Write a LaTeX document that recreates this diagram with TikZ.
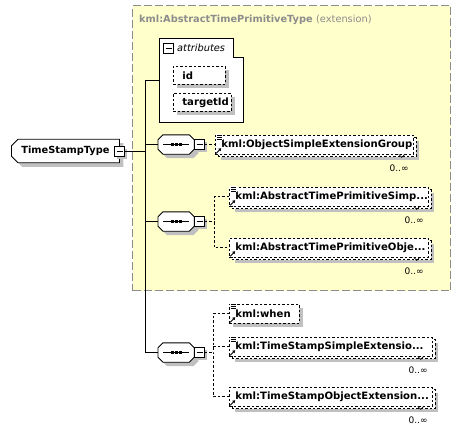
\documentclass[tikz,border=0pt]{standalone}
\usepackage{fontspec}
\setmainfont{DejaVu Sans}
\usetikzlibrary{shapes.misc,shadows,calc,arrows.meta}
\definecolor{yel}{HTML}{FFFFCC}
\definecolor{shc}{HTML}{C0C0C0}
\definecolor{frm}{HTML}{8C8C8C}
\newcommand\bft{\fontsize{9.8}{11}\selectfont\bfseries}
\newcommand\eft{\fontsize{10.1}{11}\selectfont\bfseries}
\newcommand\refarrow[1]{%
  \fill[white] ($(#1.south west)+(0.6,-0.6)$) rectangle ++(6.5,-7);
  \draw[line width=0.9pt,-{Triangle[length=2.6pt,width=3.2pt]}] ($(#1.south west)+(1.2,-1.2)$) -- ++(5,-5);}
\newcommand\simplelines[1]{%
  \fill[white] ($(#1.north west)+(0.6,-1)$) rectangle ++(7,6.5);
  \foreach \k in {0.3,2.3,4.3} \draw[line width=0.7pt] ($(#1.north west)+(1.5,\k)$) -- ++(5,0);}
\newcommand\notch[1]{%
  \draw[line width=0.7pt] ($(#1.south east)+(-15,0)$) -- ++(3,3) -- ++(3,-3);}
\newcommand\octpath[1]{($(#1.north west)+(5,0)$) -- ($(#1.north east)+(-5,0)$) -- ($(#1.north east)+(0,5)$) -- ($(#1.south east)+(0,-5)$) -- ($(#1.south east)+(-5,0)$) -- ($(#1.south west)+(5,0)$) -- ($(#1.south west)+(0,-5)$) -- ($(#1.north west)+(0,5)$) -- cycle}
\newcommand\seqdraw[1]{%
  \fill[shc, transform canvas={shift={(4pt,-4pt)}}] \octpath{#1};
  \draw[line width=0.9pt, fill=white] \octpath{#1};
  \draw[line width=0.9pt] ($(#1.west)+(5,0)$) -- ($(#1.east)+(-5,0)$);
  \foreach \d in {-4,0,4} \fill ($(#1.center)+(\d,0)$) +(-1.3,-1.3) rectangle +(1.3,1.3);}
\begin{document}
\begin{tikzpicture}[x=1pt,y=-1pt,
  conn/.style={draw=black, line width=1pt},
  dconn/.style={draw=black, line width=0.8pt, dash pattern=on 2.5pt off 2pt},
  elembase/.style={draw=black, line width=0.8pt, dash pattern=on 2.5pt off 2pt, fill=white,
    anchor=west, minimum height=19pt, inner xsep=6pt, inner ysep=0pt, align=left, font=\eft},
  single/.style={elembase, general shadow={fill=shc, shadow xshift=4pt, shadow yshift=-4pt}},
  multi/.style={elembase,
    general shadow={fill=shc, shadow xshift=6pt, shadow yshift=-6pt},
    general shadow={draw=black, line width=0.8pt, dash pattern=on 2.5pt off 2pt, fill=white, shadow xshift=2.5pt, shadow yshift=-2.5pt}},
  attrbox/.style={draw=black, line width=0.8pt, dash pattern=on 2.5pt off 2pt, fill=white,
    anchor=north west, minimum height=18pt, inner xsep=9pt, inner ysep=0pt, align=left, font=\eft,
    general shadow={fill=shc, shadow xshift=4pt, shadow yshift=-4pt}},
  minusplain/.style={draw=black, line width=0.9pt, fill=white, minimum size=10pt, inner sep=0pt,
    path picture={\draw[line width=0.9pt] ($(path picture bounding box.west)+(2,0)$) -- ($(path picture bounding box.east)+(-2,0)$);}},
  minusbox/.style={minusplain, general shadow={fill=shc, shadow xshift=2pt, shadow yshift=-2pt}},
  seqbox/.style={rectangle, minimum width=36pt, minimum height=19pt, inner sep=0pt, anchor=west},
  tstbox/.style={chamfered rectangle, chamfered rectangle corners={north west,south west}, chamfered rectangle xsep=3pt,
    draw=black, line width=0.9pt, fill=white, anchor=west, minimum width=108pt, minimum height=20pt,
    inner xsep=2pt, font=\bft, general shadow={fill=shc, shadow xshift=4pt, shadow yshift=-4pt}},
  occ/.style={font=\fontsize{9}{10}\selectfont, anchor=base east, inner sep=0pt}
]
\useasboundingbox (0,0) rectangle (461,432);
% extension frame
\node[draw=frm, fill=yel, line width=1pt, dash pattern=on 8pt off 3pt, minimum width=318pt, minimum height=285pt,
  anchor=north west, inner sep=0pt] (ext) at (132,5) {};
\node[anchor=base west, text=frm, font=\bft, inner sep=0pt] (title) at (139,22.5) {kml:AbstractTimePrimitiveType {\mdseries(extension)}};
% attributes group
\draw[line width=1pt, fill=white] (159,38) -- (233,38) -- (233,57) -- (243,57) -- (243,122) -- (159,122) -- cycle;
\coordinate (attrW) at (159,80);
\node[minusplain] (am) at (168.5,48) {};
\node[anchor=west, inner sep=0pt, font=\fontsize{9.8}{11}\selectfont\itshape] (atxt) at (177,48) {attributes};
\node[attrbox, text width=34pt] (id) at (173,66) {id};
\node[attrbox, text width=40pt] (tid) at (173,93) {targetId};
% root
\node[tstbox] (tst) at (11,151) {TimeStampType};
\node[minusbox] (tstm) at (119.5,151.5) {};
% sequences
\node[seqbox] (s1) at (158,144.5) {};
\node[seqbox] (s2) at (158,221.5) {};
\node[seqbox] (s3) at (158,352.5) {};
\seqdraw{s1}\seqdraw{s2}\seqdraw{s3}
\node[minusbox] (m1) at (199.5,144.5) {};
\node[minusbox] (m2) at (199.5,221.5) {};
\node[minusbox] (m3) at (199.5,352.5) {};
% elements
\node[multi, text width=186pt] (e1) at (215,144.5) {kml:ObjectSimpleExtensionGroup};
\node[multi, text width=187pt] (e2) at (229,196.5) {kml:AbstractTimePrimitiveSimp...};
\node[multi, text width=187pt] (e3) at (229,247.5) {kml:AbstractTimePrimitiveObje...};
\node[single, text width=58pt] (e4) at (229,313.5) {kml:when};
\node[multi, text width=191pt] (e5) at (229,346.5) {kml:TimeStampSimpleExtensio...};
\node[multi, text width=191pt] (e6) at (229,396.5) {kml:TimeStampObjectExtension...};
\simplelines{e1}\simplelines{e2}\simplelines{e4}\simplelines{e5}
\refarrow{e1}\refarrow{e2}\refarrow{e3}\refarrow{e4}\refarrow{e5}\refarrow{e6}
\notch{e1}\notch{e2}\notch{e3}\notch{e5}\notch{e6}
\node[occ] (o1) at ($(e1.south east)+(-5,17)$) {0..∞};
\node[occ] (o2) at ($(e2.south east)+(-5,17)$) {0..∞};
\node[occ] (o3) at ($(e3.south east)+(-5,17)$) {0..∞};
\node[occ] (o5) at ($(e5.south east)+(-5,17)$) {0..∞};
\node[occ] (o6) at ($(e6.south east)+(-5,17)$) {0..∞};
% connectors
\coordinate (busTop) at (145,80);
\coordinate (busBot) at (145,352.5);
\draw[conn] (attrW) -- (busTop) -- (busBot) -- (s3.west);
\draw[conn] (tstm.east) -- (tstm.east -| busTop);
\draw[conn] (s1.west) -- (s1.west -| busTop);
\draw[conn] (s2.west) -- (s2.west -| busTop);
\coordinate (v2) at (214,221.5);
\coordinate (v3) at (213,352.5);
\draw[dconn] (m1.east) -- (e1.west);
\draw[dconn] (m2.east) -- (v2);
\draw[dconn] (e2.west) -| (v2) |- (e3.west);
\draw[dconn] (m3.east) -- (v3);
\draw[dconn] (e4.west) -| (v3) |- (e6.west);
\draw[dconn] (e5.west) -- (e5.west -| v3);
\end{tikzpicture}
\end{document}
